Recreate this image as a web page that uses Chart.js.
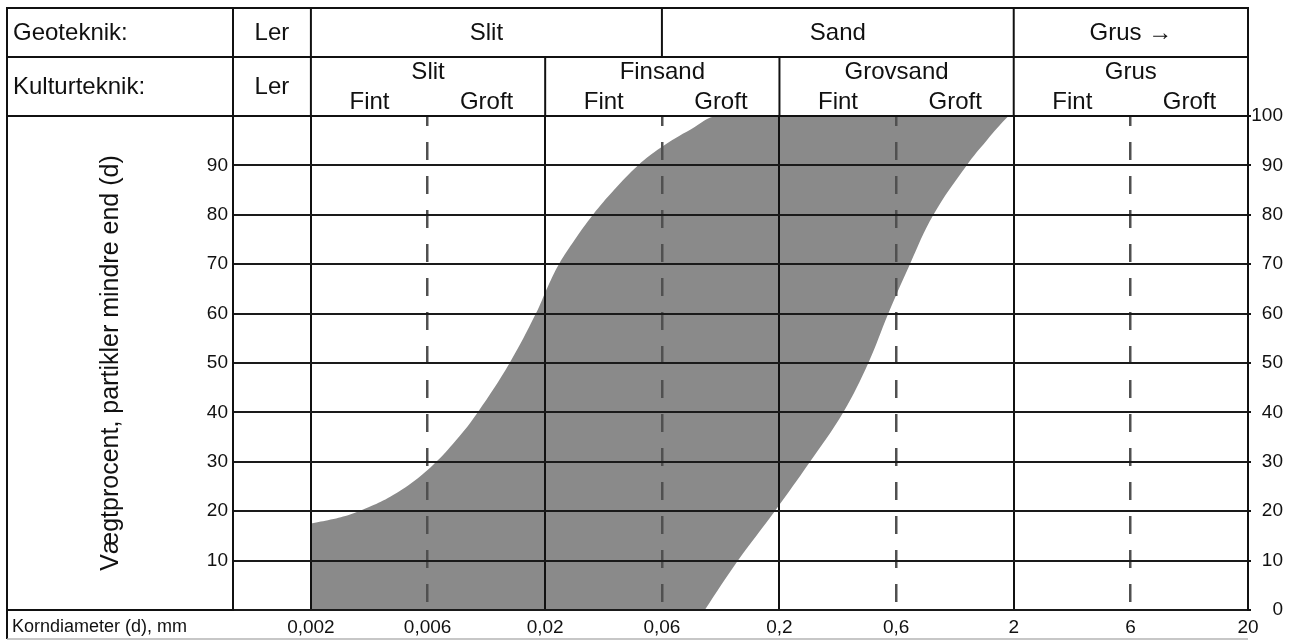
<!DOCTYPE html>
<html>
<head>
<meta charset="utf-8">
<script src="https://cdn.jsdelivr.net/npm/chart.js@4"></script>
<style>
  body { margin: 0; background: #fff; }
  #wrap { width: 1294px; height: 641px; position: relative; }
</style>
</head>
<body>
<div id="wrap"><canvas id="kornkurve"></canvas></div>
<script>
// kornkurve-båndet (diameter i mm, vægtprocent)
const leftCurveD = [0.002, 0.00243, 0.00296, 0.0036, 0.00438, 0.00534, 0.00669, 0.00831, 0.0103, 0.0141, 0.01825, 0.02054, 0.02289, 0.02679, 0.03198, 0.03932, 0.0498, 0.0624, 0.0839, 0.1094, 1.9];
const leftCurvePct = [17.5, 18.3, 19.4, 21, 23, 25.6, 29.5, 34.3, 40, 50, 60, 65.5, 70, 75, 80, 85, 90, 93.6, 97.3, 100, 100];
const rightCurveD = [0.096, 0.133, 0.191, 0.270, 0.374, 0.479, 0.583, 0.721, 0.908, 1.259, 1.53, 1.9, 1.95];
const rightCurvePct = [0, 10, 20, 30, 40, 50, 60, 70, 80, 90, 95, 100, 100];

// x-aksen
const xMin = 0.00093;
const xMax = 20;
const xTickValues = [0.002, 0.0063, 0.02, 0.063, 0.2, 0.63, 2, 6.3, 20];
const xTickLabels = ['0,002', '0,006', '0,02', '0,06', '0,2', '0,6', '2', '6', '20'];

// klassegrænser i tabelhovedet
const geoLabels = ['Ler', 'Slit', 'Sand', 'Grus \u2192'];
const geoLimits = [0.002, 0.063, 2];
const kultLabels = ['Ler', 'Slit', 'Finsand', 'Grovsand', 'Grus'];
const kultLimits = [0.002, 0.02, 0.2, 2];
const subLabels = ['Fint', 'Groft'];

const yTitle = 'Vægtprocent, partikler mindre end (d)';
const xTitle = 'Korndiameter (d), mm';

const FONT = '"Liberation Sans", Arial, sans-serif';
const INK = '#111';
Chart.defaults.font.family = FONT;
Chart.defaults.color = INK;

function toPoints(xs, ys) {
    return xs.map((d, i) => ({ x: d, y: ys[i] }));
}

const tablePlugin = {
    id: 'klassetabel',
    afterDraw(chart) {
        const { ctx, chartArea: a, scales: { x } } = chart;
        const L = 7, T = 8, row = 57, B = 639;
        const line = (x1, y1, x2, y2) => {
            ctx.beginPath(); ctx.moveTo(x1, y1); ctx.lineTo(x2, y2); ctx.stroke();
        };
        ctx.save();
        ctx.strokeStyle = INK;
        ctx.lineWidth = 2;
        line(L - 1, T, a.right + 1, T);
        line(L, T, L, B);
        line(a.right, T, a.right, a.top);
        line(L, row, a.right, row);
        line(L, a.top, a.right, a.top);
        line(L, a.bottom, a.left, a.bottom);
        line(a.left, T, a.left, a.top);

        const geoEdges = [a.left].concat(geoLimits.map(v => x.getPixelForValue(v)), [a.right]);
        const kultEdges = [a.left].concat(kultLimits.map(v => x.getPixelForValue(v)), [a.right]);
        geoEdges.slice(1, -1).forEach(px => line(px, T, px, row));
        kultEdges.slice(1, -1).forEach(px => line(px, row, px, a.top));

        ctx.strokeStyle = '#b5b5b5';
        ctx.lineWidth = 1.5;
        line(L, B, a.right, B);

        ctx.fillStyle = INK;
        ctx.textBaseline = 'middle';
        ctx.font = '24px ' + FONT;
        ctx.textAlign = 'left';
        ctx.fillText('Geoteknik:', 13, 33);
        ctx.fillText('Kulturteknik:', 13, 87);
        ctx.textAlign = 'center';
        geoLabels.forEach((t, i) => ctx.fillText(t, (geoEdges[i] + geoEdges[i + 1]) / 2, 33));
        kultLabels.forEach((t, i) => {
            const l = kultEdges[i], r = kultEdges[i + 1], m = (l + r) / 2;
            if (i === 0) {
                ctx.fillText(t, m, 87);
                return;
            }
            ctx.fillText(t, m, 72);
            ctx.fillText(subLabels[0], (l + m) / 2, 102);
            ctx.fillText(subLabels[1], (m + r) / 2, 102);
        });

        ctx.font = '18px ' + FONT;
        ctx.textAlign = 'left';
        ctx.fillText(xTitle, 12, 627);
        ctx.restore();
    }
};

new Chart(document.getElementById('kornkurve'), {
    type: 'line',
    data: {
        datasets: [{
            label: 'grov grænse',
            data: toPoints(rightCurveD, rightCurvePct),
            fill: 'start',
            backgroundColor: '#ffffff',
            borderColor: 'transparent',
            pointRadius: 0,
            tension: 0.4
        }, {
            label: 'fin grænse',
            data: toPoints(leftCurveD, leftCurvePct),
            fill: 'start',
            backgroundColor: '#8a8a8a',
            borderColor: 'transparent',
            pointRadius: 0,
            tension: 0.4
        }]
    },
    options: {
        responsive: true,
        maintainAspectRatio: false,
        animation: false,
        layout: { padding: { top: 116, right: 11, bottom: 0, left: 0 } },
        plugins: { legend: { display: false }, tooltip: { enabled: false } },
        scales: {
            x: {
                type: 'logarithmic',
                min: xMin,
                max: xMax,
                afterBuildTicks: s => { s.ticks = xTickValues.map(v => ({ value: v })); },
                afterFit: s => { s.height = 31; },
                ticks: {
                    autoSkip: false,
                    maxRotation: 0,
                    padding: 6,
                    font: { size: 19 },
                    callback: (v, i) => xTickLabels[i]
                },
                grid: {
                    z: 1,
                    drawTicks: false,
                    color: c => c.index % 2 ? '#505050' : INK,
                    lineWidth: c => c.index % 2 ? 2.5 : 2
                },
                border: {
                    z: 1, color: INK, width: 2,
                    dash: c => c.index % 2 ? [18, 16] : [],
                    dashOffset: 8
                }
            },
            y: {
                position: 'left',
                min: 0,
                max: 100,
                afterFit: s => { s.width = 233; },
                ticks: {
                    stepSize: 10,
                    padding: 5,
                    font: { size: 19 },
                    callback: v => (v > 0 && v < 100) ? v : ''
                },
                grid: { z: 1, drawTicks: false, color: '#1a1a1a', lineWidth: 2 },
                border: { z: 1, color: INK, width: 2 },
                title: {
                    display: true,
                    text: yTitle,
                    font: { size: 25 },
                    padding: { top: 96, bottom: 0 }
                }
            },
            y2: {
                position: 'right',
                min: 0,
                max: 100,
                afterFit: s => { s.width = 35; },
                ticks: { stepSize: 10, crossAlign: 'far', font: { size: 19 } },
                grid: { drawOnChartArea: false, drawTicks: true, tickLength: 3, color: INK, lineWidth: 2 },
                border: { z: 1, color: INK, width: 2 }
            }
        }
    },
    plugins: [tablePlugin]
});
</script>
</body>
</html>
